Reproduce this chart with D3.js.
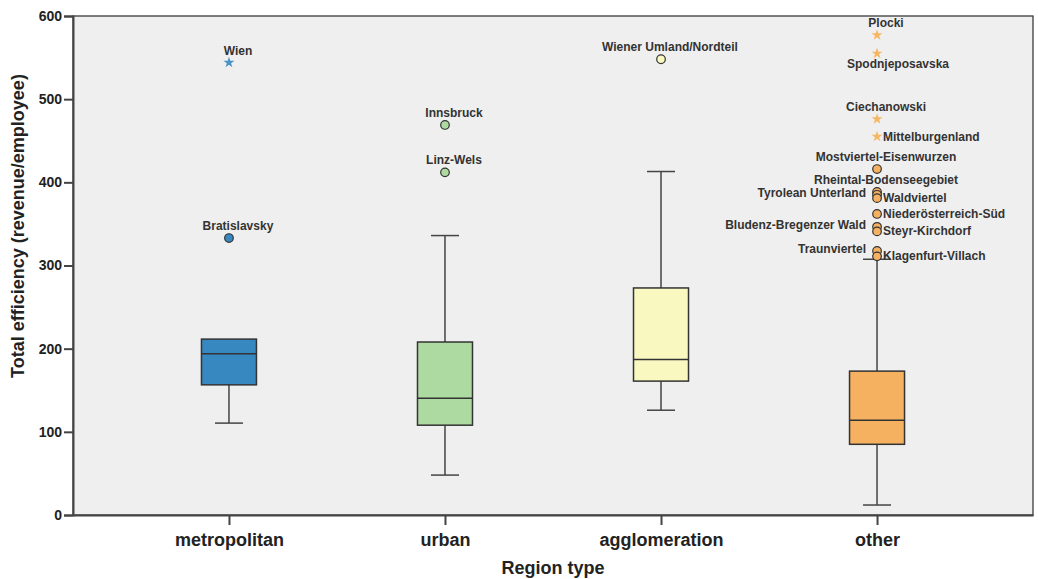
<!DOCTYPE html>
<html>
<head>
<meta charset="utf-8">
<script src="https://cdn.jsdelivr.net/npm/d3@7"></script>
<style>
  body { margin: 0; background: #fff; }
  svg text { font-family: "Liberation Sans", Arial, sans-serif; }
</style>
</head>
<body>
<div id="chart"></div>
<script>
// box plot summary per region type
var categories = ["metropolitan", "urban", "agglomeration", "other"];
var whiskerLow = [110.5, 48, 126, 12];
var q1 = [156.5, 108, 161, 85];
var medians = [194, 140.5, 187, 114];
var q3 = [211.5, 208, 273, 173];
var whiskerHigh = [211.5, 336, 413, 307.5];
var fills = ["#3787c0", "#addaa1", "#f8f8c0", "#f5b060"];
var starFills = ["#4a93c8", "#addaa1", "#f8f8c0", "#f5b763"];

// outliers (circles) and extremes (stars)
var outlierNames = ["Wien", "Bratislavsky", "Innsbruck", "Linz-Wels", "Wiener Umland/Nordteil",
  "Plocki", "Spodnjeposavska", "Ciechanowski", "Mittelburgenland", "Mostviertel-Eisenwurzen",
  "Rheintal-Bodenseegebiet", "Tyrolean Unterland", "Waldviertel", "Niederösterreich-Süd",
  "Bludenz-Bregenzer Wald", "Steyr-Kirchdorf", "Traunviertel", "Klagenfurt-Villach"];
var outlierGroups = ["metropolitan", "metropolitan", "urban", "urban", "agglomeration",
  "other", "other", "other", "other", "other", "other", "other", "other", "other",
  "other", "other", "other", "other"];
var outlierValues = [544, 333, 469, 412, 548, 577, 555, 476, 455, 416,
  388.5, 385, 381, 362, 346.5, 341, 317.5, 311];
var outlierExtreme = [true, false, false, false, false, true, true, true, true, false,
  false, false, false, false, false, false, false, false];
var labelSide = ["top", "top", "top", "top", "top", "top", "bottom", "top", "right", "top",
  "top", "left", "right", "right", "left", "right", "left", "right"];

var yTicks = [0, 100, 200, 300, 400, 500, 600];

var W = 1038, H = 579;
var margin = {top: 16, right: 5, bottom: 64, left: 73};

var svg = d3.select("#chart").append("svg")
  .attr("width", W)
  .attr("height", H);

var x = d3.scalePoint()
  .domain(categories)
  .range([margin.left, W - margin.right])
  .padding(0.722);

var y = d3.scaleLinear()
  .domain([0, 600])
  .range([H - margin.bottom, margin.top]);

// plot background + frame
svg.append("rect")
  .attr("x", margin.left)
  .attr("y", margin.top)
  .attr("width", W - margin.right - margin.left)
  .attr("height", H - margin.bottom - margin.top)
  .attr("fill", "#efefef")
  .attr("stroke", "#3a3a3a")
  .attr("stroke-width", 1.3);

var boxW = 55;
var capW = 28;
var g = svg.append("g");

categories.forEach(function(c, i) {
  var cx = x(c);
  // lower whisker
  g.append("line")
    .attr("x1", cx).attr("x2", cx)
    .attr("y1", y(whiskerLow[i])).attr("y2", y(q1[i]))
    .attr("stroke", "#444").attr("stroke-width", 1.5);
  g.append("line")
    .attr("x1", cx - capW / 2).attr("x2", cx + capW / 2)
    .attr("y1", y(whiskerLow[i])).attr("y2", y(whiskerLow[i]))
    .attr("stroke", "#444").attr("stroke-width", 1.5);
  // upper whisker
  if (whiskerHigh[i] > q3[i]) {
    g.append("line")
      .attr("x1", cx).attr("x2", cx)
      .attr("y1", y(q3[i])).attr("y2", y(whiskerHigh[i]))
      .attr("stroke", "#444").attr("stroke-width", 1.5);
    g.append("line")
      .attr("x1", cx - capW / 2).attr("x2", cx + capW / 2)
      .attr("y1", y(whiskerHigh[i])).attr("y2", y(whiskerHigh[i]))
      .attr("stroke", "#444").attr("stroke-width", 1.5);
  }
  // box
  g.append("rect")
    .attr("x", cx - boxW / 2)
    .attr("y", y(q3[i]))
    .attr("width", boxW)
    .attr("height", y(q1[i]) - y(q3[i]))
    .attr("fill", fills[i])
    .attr("stroke", "#333")
    .attr("stroke-width", 1.5);
  g.append("line")
    .attr("x1", cx - boxW / 2).attr("x2", cx + boxW / 2)
    .attr("y1", y(medians[i])).attr("y2", y(medians[i]))
    .attr("stroke", "#333").attr("stroke-width", 1.5);
});

// outlier marks
var star = d3.symbol().type(d3.symbolStar).size(38);
outlierNames.forEach(function(name, i) {
  var ci = categories.indexOf(outlierGroups[i]);
  var px = x(outlierGroups[i]), py = y(outlierValues[i]);
  if (outlierExtreme[i]) {
    g.append("path")
      .attr("d", star)
      .attr("transform", "translate(" + px + "," + py + ")")
      .attr("fill", starFills[ci]);
  } else {
    g.append("circle")
      .attr("cx", px).attr("cy", py).attr("r", 4.3)
      .attr("fill", fills[ci])
      .attr("stroke", "#333")
      .attr("stroke-width", 1.2);
  }
});

// outlier labels
outlierNames.forEach(function(name, i) {
  var px = x(outlierGroups[i]), py = y(outlierValues[i]);
  var side = labelSide[i];
  var t = g.append("text")
    .text(name)
    .attr("font-size", "12px")
    .attr("font-weight", "bold")
    .attr("fill", "#333");
  if (side === "top") {
    t.attr("x", px + 9).attr("y", py - 8).attr("text-anchor", "middle");
  } else if (side === "bottom") {
    t.attr("x", px + 21).attr("y", py + 15).attr("text-anchor", "middle");
  } else if (side === "left") {
    t.attr("x", px - 11).attr("y", py + 2).attr("text-anchor", "end");
  } else {
    t.attr("x", px + 6).attr("y", py + 4).attr("text-anchor", "start");
  }
});

// y axis
var yAxis = svg.append("g")
  .attr("transform", "translate(" + margin.left + ",0)")
  .call(d3.axisLeft(y).tickValues(yTicks).tickSize(9).tickPadding(2));
yAxis.selectAll("text")
  .attr("font-size", "14px")
  .attr("font-weight", "bold")
  .attr("fill", "#222");
yAxis.selectAll("line").attr("stroke", "#444").attr("stroke-width", 2);
yAxis.select(".domain").attr("stroke", "#444").attr("stroke-width", 2);

// x axis
var xAxis = svg.append("g")
  .attr("transform", "translate(0," + (H - margin.bottom) + ")")
  .call(d3.axisBottom(x).tickSize(10).tickPadding(8).tickSizeOuter(0));
xAxis.selectAll("text")
  .attr("font-size", "18px")
  .attr("font-weight", "bold")
  .attr("fill", "#222");
xAxis.selectAll("line").attr("stroke", "#444").attr("stroke-width", 2);
xAxis.select(".domain").attr("stroke", "#444").attr("stroke-width", 2);

// axis titles
svg.append("text")
  .attr("x", (margin.left + W - margin.right) / 2)
  .attr("y", 574)
  .attr("text-anchor", "middle")
  .attr("font-size", "18px")
  .attr("font-weight", "bold")
  .attr("fill", "#222")
  .text("Region type");

svg.append("text")
  .attr("transform", "translate(24," + 226 + ") rotate(-90)")
  .attr("text-anchor", "middle")
  .attr("font-size", "18px")
  .attr("font-weight", "bold")
  .attr("fill", "#222")
  .text("Total efficiency (revenue/employee)");
</script>
</body>
</html>
